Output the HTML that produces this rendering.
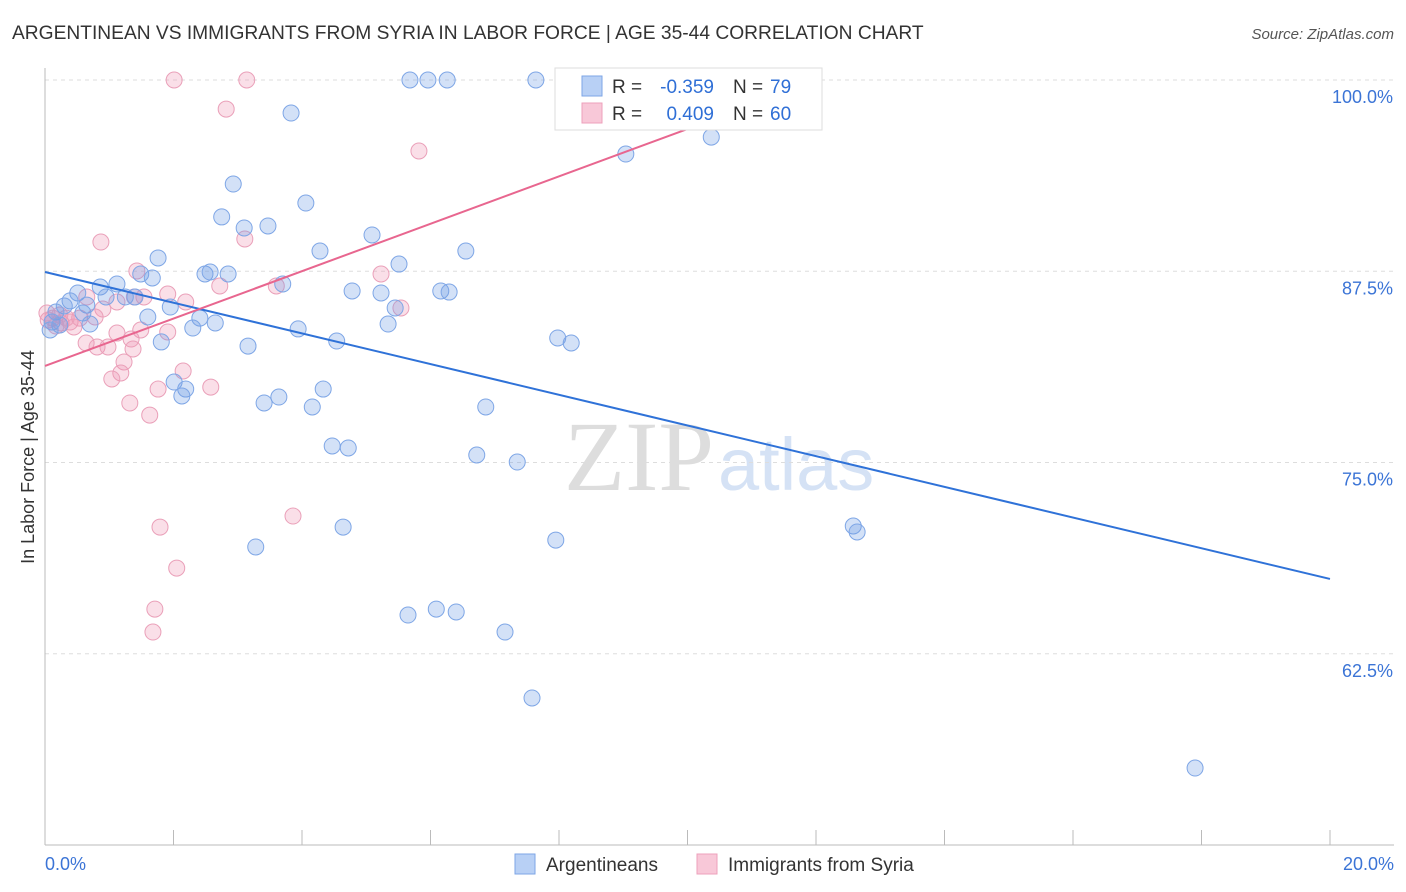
<!DOCTYPE html>
<html><head><meta charset="utf-8"><style>
body{margin:0;background:#fff;font-family:"Liberation Sans",sans-serif}
</style></head><body>
<svg id="chart" width="1406" height="892" style="display:block">
<text x="12" y="39" font-size="19.2" fill="#333">ARGENTINEAN VS IMMIGRANTS FROM SYRIA IN LABOR FORCE | AGE 35-44 CORRELATION CHART</text>
<text x="1394" y="39" font-size="15" fill="#555" font-style="italic" text-anchor="end">Source: ZipAtlas.com</text>
<text x="34" y="457" font-size="18" fill="#333" text-anchor="middle" transform="rotate(-90 34 457)">In Labor Force | Age 35-44</text>
<text x="714" y="490" font-size="100" fill="#ddd" text-anchor="end" font-family="Liberation Serif">ZIP</text>
<text x="718" y="490" font-size="74" fill="#d5e2f5">atlas</text>
<g id="grid"></g><g id="marks"></g>
<g>
<rect x="555" y="68" width="267" height="62" fill="#fff" stroke="#ddd"/>
<rect x="582" y="76" width="20" height="20" fill="#b8d0f5" stroke="#7ea6e6"/>
<rect x="582" y="103" width="20" height="20" fill="#f8c8d8" stroke="#eea0bb"/>
<text x="612" y="93" font-size="19" fill="#333">R =</text>
<text x="714" y="93" font-size="19" fill="#2f6fd6" text-anchor="end">-0.359</text>
<text x="733" y="93" font-size="19" fill="#333">N =</text>
<text x="770" y="93" font-size="19" fill="#2f6fd6">79</text>
<text x="612" y="120" font-size="19" fill="#333">R =</text>
<text x="714" y="120" font-size="19" fill="#2f6fd6" text-anchor="end">0.409</text>
<text x="733" y="120" font-size="19" fill="#333">N =</text>
<text x="770" y="120" font-size="19" fill="#2f6fd6">60</text>
</g>
<g>
<rect x="515" y="854" width="20" height="20" fill="#b8d0f5" stroke="#7ea6e6"/>
<text x="546" y="871" font-size="19" fill="#333">Argentineans</text>
<rect x="697" y="854" width="20" height="20" fill="#f8c8d8" stroke="#eea0bb"/>
<text x="728" y="871" font-size="19" fill="#333">Immigrants from Syria</text>
</g>
</svg>
<script>
const yTicks=[100,87.5,75,62.5];
const yTickLabels=["100.0%","87.5%","75.0%","62.5%"];
const xTicks=[0,2,4,6,8,10,12,14,16,18,20];
const blueX=[5.68,5.96,6.26,7.64,3.83,10.37,9.04,2.93,4.06,2.75,3.47,3.10,5.09,4.28,6.55,1.76,5.51,1.49,1.67,2.49,2.85,2.57,1.12,0.86,3.70,0.51,0.95,1.25,1.40,0.39,1.95,4.78,5.23,6.16,6.29,5.45,0.30,0.65,0.59,0.17,0.11,0.23,0.70,1.60,2.41,2.65,2.30,5.34,3.94,1.81,3.16,4.54,7.98,8.19,2.01,2.19,2.13,4.33,3.41,3.64,4.16,6.86,4.47,4.72,6.72,7.35,12.58,12.64,4.64,7.95,3.28,6.09,5.65,6.40,7.16,7.58,17.90,0.08];
const blueY=[100,100,100,100,97.84,96.27,95.16,93.2,91.96,91.05,90.46,90.33,89.87,88.82,88.82,88.37,87.97,87.32,87.06,87.32,87.32,87.45,86.67,86.47,86.67,86.08,85.82,85.82,85.82,85.56,85.16,86.21,86.08,86.21,86.14,85.10,85.23,85.29,84.77,84.84,84.18,83.99,84.05,84.51,84.44,84.12,83.79,84.05,83.73,82.88,82.61,82.94,83.14,82.81,80.26,79.80,79.35,79.80,78.89,79.28,78.63,78.63,76.08,75.95,75.49,75.03,70.85,70.46,70.78,69.93,69.48,65.42,65.03,65.23,63.92,59.61,55.03,83.66];
const pinkX=[2.01,3.14,2.82,5.82,0.87,3.11,1.43,5.23,3.60,2.72,1.91,2.19,1.54,0.65,1.12,0.90,5.54,0.03,0.12,0.25,0.39,0.54,0.78,0.45,1.12,1.49,1.91,1.34,0.64,0.81,0.98,1.37,1.23,1.18,1.04,2.15,1.76,2.58,1.32,1.63,1.79,3.86,2.05,1.71,1.68,0.05,0.17,0.33,0.23,1.39];
const pinkY=[100,100,98.10,95.36,89.41,89.61,87.52,87.32,86.54,86.54,86.01,85.49,85.82,85.82,85.49,85.03,85.10,84.77,84.44,84.12,84.18,84.44,84.51,83.86,83.46,83.66,83.53,83.07,82.81,82.55,82.55,82.42,81.57,80.85,80.46,80.98,79.80,79.93,78.89,78.10,70.78,71.50,68.10,65.42,63.92,84.31,83.92,84.44,84.64,85.82];
const blueTrend=[87.45,67.39];
const pinkTrend=[81.31,96.86];
const pinkTrendEnd=10.04;
const NS="http://www.w3.org/2000/svg";
const sx=v=>45+v/20*1285, sy=v=>80+(100-v)/50*765;
function mk(t,a,p){const e=document.createElementNS(NS,t);for(const k in a)e.setAttribute(k,a[k]);p.appendChild(e);return e;}
const grid=document.getElementById('grid'),marks=document.getElementById('marks');
yTicks.forEach((t,i)=>{
 const l=mk('line',{x1:45,x2:1394,y1:sy(t),y2:sy(t),stroke:'#ddd','stroke-dasharray':'4,4'},grid);
 
 
 const tx=mk('text',{x:1393,y:sy(t)+23,'font-size':18,fill:'#3b74d6','text-anchor':'end'},grid);
 tx.textContent=yTickLabels[i];
 
 
});
const ax=mk('line',{x1:45,x2:1394,y1:845,y2:845,stroke:'#bbb'},grid);


const ay=mk('line',{x1:45,x2:45,y1:68,y2:845,stroke:'#bbb'},grid);


xTicks.forEach(t=>{if(t===0)return;
 const l=mk('line',{x1:sx(t),x2:sx(t),y1:830,y2:845,stroke:'#bbb'},grid);
 
 
});
const x0=mk('text',{x:45,y:870,'font-size':18,fill:'#3b74d6'},grid);x0.textContent='0.0%';


const x1=mk('text',{x:1394,y:870,'font-size':18,fill:'#3b74d6','text-anchor':'end'},grid);x1.textContent='20.0%';


pinkX.forEach((x,i)=>{const c=mk('circle',{cx:sx(x),cy:sy(pinkY[i]),r:8,fill:'rgba(240,150,180,0.3)',stroke:'#eaa0b9','stroke-width':1},marks);
 
 });
blueX.forEach((x,i)=>{const c=mk('circle',{cx:sx(x),cy:sy(blueY[i]),r:8,fill:'rgba(110,155,230,0.3)',stroke:'#7ea6e6','stroke-width':1},marks);
 
 });
const bl=mk('line',{x1:sx(0),y1:sy(blueTrend[0]),x2:sx(20),y2:sy(blueTrend[1]),stroke:'#2f72d8','stroke-width':2},marks);


const pl=mk('line',{x1:sx(0),y1:sy(pinkTrend[0]),x2:sx(pinkTrendEnd),y2:sy(pinkTrend[1]),stroke:'#e8668f','stroke-width':2},marks);


</script>
</body></html>
